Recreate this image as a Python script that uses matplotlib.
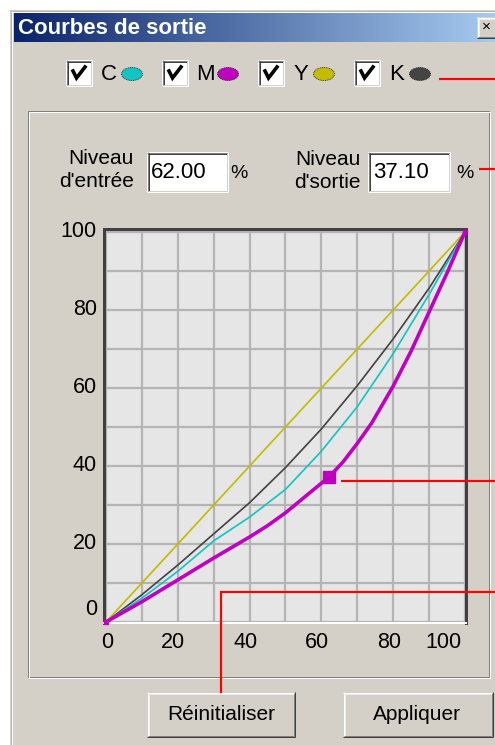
import numpy as np
import matplotlib
matplotlib.use("Agg")
import matplotlib.pyplot as plt
from matplotlib.patches import Rectangle, Ellipse
from matplotlib.colors import LinearSegmentedColormap
import matplotlib.transforms as mtransforms

plt.rcParams['font.family'] = ['Liberation Sans', 'DejaVu Sans']

# ---------------- data ----------------
title = "Courbes de sortie"
channels = ["C", "M", "Y", "K"]
channel_colors = ["#14c4c4", "#c000c0", "#c4bc00", "#444444"]

input_levels = [0, 10, 20, 30, 40, 50, 60, 70, 80, 90, 95, 100]
output_y = [0, 10, 20, 30, 40, 50, 60, 70, 80, 90, 95, 100]
output_k = [0, 7.0, 14.6, 22.6, 30.6, 39.6, 49.5, 60.6, 72.6, 85.6, 92.8, 100]
output_c = [0, 6.1, 13.0, 20.8, 26.9, 34.0, 43.8, 55.2, 68.8, 84.0, 92.0, 100]
input_levels_m = [0, 10, 20, 30, 40, 45, 50, 55, 62, 66, 70, 74, 80, 85, 90, 95, 100]
output_m = [0, 5.2, 10.8, 16.4, 21.8, 24.7, 28.0, 31.8, 37.1, 41.0, 45.8, 51.0,
            60.5, 69.5, 79.5, 89.5, 100]

selected_input = 62.00
selected_output = 37.10
input_label = "Niveau\nd'entrée"
output_label = "Niveau\nd'sortie"
x_ticks = [0, 20, 40, 60, 80, 100]
y_ticks = [0, 20, 40, 60, 80, 100]
grid_levels = [0, 10, 20, 30, 40, 50, 60, 70, 80, 90, 100]
button_labels = ["Réinitialiser", "Appliquer"]

# ---------------- figure ----------------
W, H = 495, 745
fig = plt.figure(figsize=(W / 100, H / 100), dpi=100)
fig.patch.set_facecolor("white")
PX = 0.72  # points per pixel
BG = "#d4d0c8"
FS_LABEL = 15
FS_NUM = 16
FS_TICK = 15.5

ui = fig.add_axes([0, 0, 1, 1], zorder=0)
ui.set_xlim(0, W)
ui.set_ylim(H, 0)
ui.axis("off")


def seg(ax, xs, ys, color, px=1, z=3):
    ax.plot(xs, ys, color=color, lw=px * PX, solid_capstyle="butt", zorder=z)


def rect(ax, x0, y0, x1, y1, fc, z=1):
    ax.add_patch(Rectangle((x0, y0), x1 - x0, y1 - y0, facecolor=fc,
                           edgecolor="none", zorder=z))


def bevel(ax, x0, y0, x1, y1, tl_out, tl_in, br_out, br_in, z=3):
    seg(ax, [x0, x1], [y0 + 0.5, y0 + 0.5], tl_out, z=z)
    seg(ax, [x0 + 0.5, x0 + 0.5], [y0, y1], tl_out, z=z)
    seg(ax, [x0 + 1, x1 - 1], [y0 + 1.5, y0 + 1.5], tl_in, z=z)
    seg(ax, [x0 + 1.5, x0 + 1.5], [y0 + 1, y1 - 1], tl_in, z=z)
    seg(ax, [x0, x1], [y1 - 0.5, y1 - 0.5], br_out, z=z)
    seg(ax, [x1 - 0.5, x1 - 0.5], [y0, y1], br_out, z=z)
    seg(ax, [x0 + 1, x1 - 1], [y1 - 1.5, y1 - 1.5], br_in, z=z)
    seg(ax, [x1 - 1.5, x1 - 1.5], [y0 + 1, y1 - 1], br_in, z=z)


def sunken(ax, x0, y0, x1, y1, fc="white"):
    rect(ax, x0, y0, x1, y1, fc, z=2)
    bevel(ax, x0, y0, x1, y1, "#808080", "#404040", "#ffffff", BG)


def raised(ax, x0, y0, x1, y1):
    rect(ax, x0, y0, x1, y1, BG, z=2)
    bevel(ax, x0, y0, x1, y1, "#ffffff", "#ececec", "#404040", "#808080")


# window
rect(ui, 10, 10, W + 5, H + 5, BG)
seg(ui, [10.5, 10.5], [10, H], "#b8b4ac")
seg(ui, [10, W], [10.5, 10.5], "#b8b4ac")
seg(ui, [11.5, 11.5], [11, H], "#ffffff")
seg(ui, [11, W], [11.5, 11.5], "#ffffff")

# title bar gradient
cmap = LinearSegmentedColormap.from_list("tb", ["#0a246a", "#a6caf0"])
grad = np.linspace(0, 1, 256).reshape(1, -1)
ui.imshow(grad, cmap=cmap, aspect="auto", extent=[14, W, 42, 13], zorder=2,
          interpolation="bilinear")
ui.text(18, 28, title, color="white", fontsize=16, fontweight="bold",
        ha="left", va="center", zorder=4)
raised(ui, 477, 17, W + 3, 38)
ui.text(486, 27, "×", fontsize=11, ha="center", va="center", color="black", zorder=5)

# checkbox row
box_x = [66, 162, 258, 354]
for i, (ch, col) in enumerate(zip(channels, channel_colors)):
    x0 = box_x[i]
    sunken(ui, x0, 60, x0 + 26, 86)
    ui.plot([x0 + 7, x0 + 10.5, x0 + 19], [71, 78, 67], color="black",
            lw=3.6 * PX, solid_joinstyle="miter", zorder=5)
    ui.text(x0 + 43, 74, ch, fontsize=FS_NUM, ha="center", va="center", zorder=5)
    ui.add_patch(Ellipse((x0 + 66, 74), 21, 13, facecolor=col,
                         edgecolor="#202020", lw=0.9 * PX, ls=(0, (1, 1)), zorder=5))

# group box (etched)
ui.add_patch(Rectangle((27.5, 110.5), 461, 566, fill=False, edgecolor="#808080",
                       lw=PX, zorder=3))
ui.add_patch(Rectangle((28.5, 111.5), 461, 566, fill=False, edgecolor="#ffffff",
                       lw=PX, zorder=3))

# input / output fields
ui.text(134, 170, input_label, fontsize=FS_LABEL, ha="right", va="center",
        multialignment="right", linespacing=1.25, zorder=5)
sunken(ui, 147, 152, 228, 192)
ui.text(151, 173, f"{selected_input:.2f}", fontsize=FS_NUM, ha="left", va="center", zorder=5)
ui.text(239, 173, "%", fontsize=FS_LABEL - 1, ha="center", va="center", zorder=5)

ui.text(361, 171, output_label, fontsize=FS_LABEL, ha="right", va="center",
        multialignment="right", linespacing=1.25, zorder=5)
sunken(ui, 368, 152, 450, 192)
ui.text(373, 173, f"{selected_output:.2f}", fontsize=FS_NUM, ha="left", va="center", zorder=5)
ui.text(465, 173, "%", fontsize=FS_LABEL - 1, ha="center", va="center", zorder=5)

# buttons
raised(ui, 147, 692, 295, 737)
ui.text(221, 714, button_labels[0], fontsize=FS_LABEL, ha="center", va="center", zorder=5)
raised(ui, 343, 692, 493, 737)
ui.text(417, 714, button_labels[1], fontsize=FS_LABEL, ha="center", va="center", zorder=5)

# ---------------- curve plot ----------------
ax = fig.add_axes([104 / W, (H - 623) / H, 362 / W, 394 / H], zorder=5)
ax.set_facecolor("#e6e6e6")
ax.set_xlim(-0.557, 100.28)
ax.set_ylim(-0.256, 100.77)
for g in grid_levels:
    ax.axvline(g, color="#b4b4b4", lw=2.2 * PX, zorder=1)
    ax.axhline(g, color="#b4b4b4", lw=2.2 * PX, zorder=1)

ax.plot(input_levels, output_y, color=channel_colors[2], lw=1.7 * PX, zorder=3)
ax.plot(input_levels, output_k, color=channel_colors[3], lw=1.7 * PX, zorder=3)
ax.plot(input_levels, output_c, color=channel_colors[0], lw=1.7 * PX, zorder=3)
ax.plot(input_levels_m, output_m, color=channel_colors[1], lw=3.6 * PX, zorder=4)
ax.plot([input_levels_m[0], input_levels_m[-1]], [output_m[0], output_m[-1]], "s",
        color=channel_colors[1], ms=5 * PX, zorder=5, clip_on=False)
ax.plot([selected_input], [selected_output], "s", color=channel_colors[1],
        ms=12 * PX, zorder=6)

for side in ["top", "left", "right"]:
    ax.spines[side].set_color("#404040")
    ax.spines[side].set_linewidth(3 * PX)
ax.spines["bottom"].set_color("white")
ax.spines["bottom"].set_linewidth(2 * PX)
ax.set_xticks([])
ax.set_yticks([])

xt = ax.get_xaxis_transform()
for v in x_ticks:
    dx = -4.5
    if v == x_ticks[0]:
        dx = 1
    elif v == x_ticks[-1]:
        dx = -22
    tr = mtransforms.offset_copy(xt, fig=fig, x=dx, y=-20, units="dots")
    ax.text(v, 0, str(v), transform=tr, fontsize=FS_TICK, ha="center", va="center",
            clip_on=False)
yt = ax.get_yaxis_transform()
for v in y_ticks:
    dy = 13 if v == y_ticks[0] else 1
    tr = mtransforms.offset_copy(yt, fig=fig, x=-7, y=dy, units="dots")
    ax.text(0, v, str(v), transform=tr, fontsize=FS_TICK, ha="right", va="center",
            clip_on=False)

# ---------------- red callout lines ----------------
top = fig.add_axes([0, 0, 1, 1], zorder=20)
top.set_xlim(0, W)
top.set_ylim(H, 0)
top.axis("off")
top.patch.set_alpha(0)
RED = "#ff0000"
seg(top, [439, W], [79, 79], RED, px=2.2)
seg(top, [479, W], [169, 169], RED, px=2.2)
seg(top, [341, W], [480.5, 480.5], RED, px=2.2)
top.plot([220.5, 220.5, W], [692, 591.7, 591.7], color=RED, lw=2.2 * PX,
         solid_joinstyle="miter")

fig.savefig("out.png", dpi=100, facecolor=fig.get_facecolor())
